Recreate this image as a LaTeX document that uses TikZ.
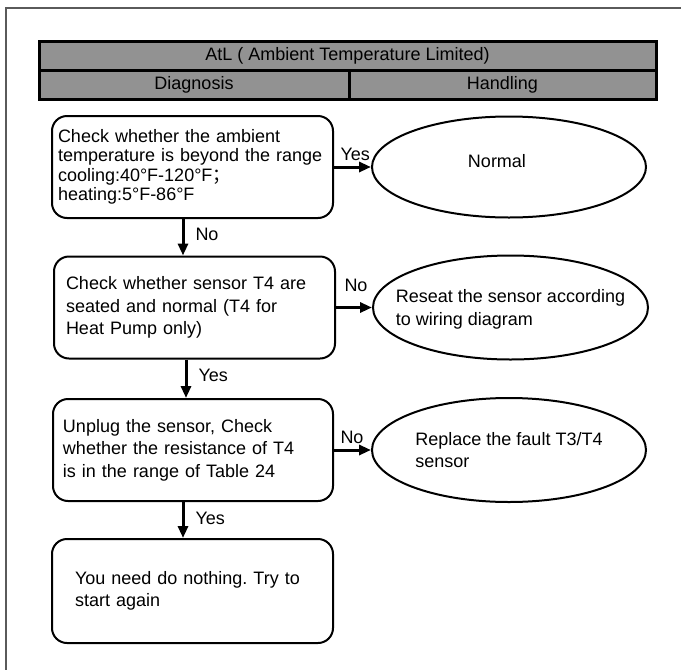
\documentclass[tikz,border=0pt]{standalone}
\usepackage{fontspec}
\setmainfont{Liberation Sans}
\newfontfamily\cjk{Noto Sans CJK SC}
\usetikzlibrary{arrows.meta,shapes.geometric}
\definecolor{hdr}{HTML}{929292}
\definecolor{frm}{HTML}{5A5A5A}
\frenchspacing
\begin{document}
\begin{tikzpicture}[x=1pt,y=-1pt,
  every node/.style={font=\fontsize{18}{22.5}\selectfont},
  box/.style={draw, line width=2pt, rounded corners=15pt, minimum width=281pt, minimum height=102pt, align=left},
  oval/.style={draw, ellipse, line width=2pt, minimum width=274pt, minimum height=102pt, inner sep=0pt},
  hcell/.style={draw, fill=hdr, line width=3pt, inner sep=0pt, minimum height=29pt},
  arr/.style={line width=3pt, -{Triangle[length=12pt,width=10pt]}},
  lbl/.style={inner sep=0pt, anchor=base west}
]
\useasboundingbox (0,0) rectangle (681,670);
\draw[frm, line width=2pt] (6,670) -- (6,8) -- (681,8);

% header
\node[hcell, minimum width=617pt] (title) at (347.5,55.5) {AtL ( Ambient Temperature Limited)};
\node[hcell, minimum width=310pt] (diag) at (194,84.5) {Diagnosis};
\node[hcell, minimum width=307pt] (hand) at (502.5,84.5) {Handling};

% diagnosis boxes
\node[box, inner xsep=6pt, text width=269pt, font=\fontsize{18}{19.5}\selectfont] (b1) at (192.5,167)
  {Check whether the ambient\\temperature is beyond the range\\cooling:40°F-120°F{\cjk ；}\\heating:5°F-86°F};
\node[box, inner xsep=12pt, text width=257pt] (b2) at (194.5,307.5)
  {Check whether sensor T4 are\\seated and normal (T4 for\\Heat Pump only)};
\node[box, inner xsep=10pt, text width=260pt, minimum width=280pt] (b3) at (193,450)
  {Unplug the sensor, Check\\whether the resistance of T4\\is in the range of Table 24};
\node[box, inner xsep=23pt, text width=235pt, minimum height=104pt] (b4) at (192.5,591)
  {You need do nothing. Try to\\start again};

% handling ovals
\node[oval, minimum height=101pt, label={[xshift=-12pt,yshift=6pt]center:Normal}] (e1) at (509,167) {};
\node[oval, minimum width=275pt, minimum height=104pt,
  label={[align=left,yshift=-2pt]center:Reseat the sensor according\\to wiring diagram}] (e2) at (510.5,307.5) {};
\node[oval, minimum height=104pt,
  label={[align=left]center:Replace the fault T3/T4\\sensor}] (e3) at (509,450) {};

% connectors
\coordinate (v1) at (183,0);
\coordinate (v2) at (186,0);
\coordinate (v3) at (183,0);

\draw[arr] (b1.east) -- (e1.west) node[lbl, pos=0, xshift=5pt, yshift=7pt] {Yes};
\draw[arr] (b2.east) -- (e2.west) node[lbl, pos=0, xshift=7pt, yshift=16.5pt] {No};
\draw[arr] (b3.east) -- (e3.west) node[lbl, pos=0, xshift=5pt, yshift=7pt] {No};

\draw[arr] (b1.south -| v1) -- (b2.north -| v1) node[lbl, pos=0, xshift=11pt, yshift=-21pt] {No};
\draw[arr] (b2.south -| v2) -- (b3.north -| v2) node[lbl, pos=0, xshift=11pt, yshift=-22pt] {Yes};
\draw[arr] (b3.south -| v3) -- (b4.north -| v3) node[lbl, pos=0, xshift=11pt, yshift=-22pt] {Yes};
\end{tikzpicture}
\end{document}
